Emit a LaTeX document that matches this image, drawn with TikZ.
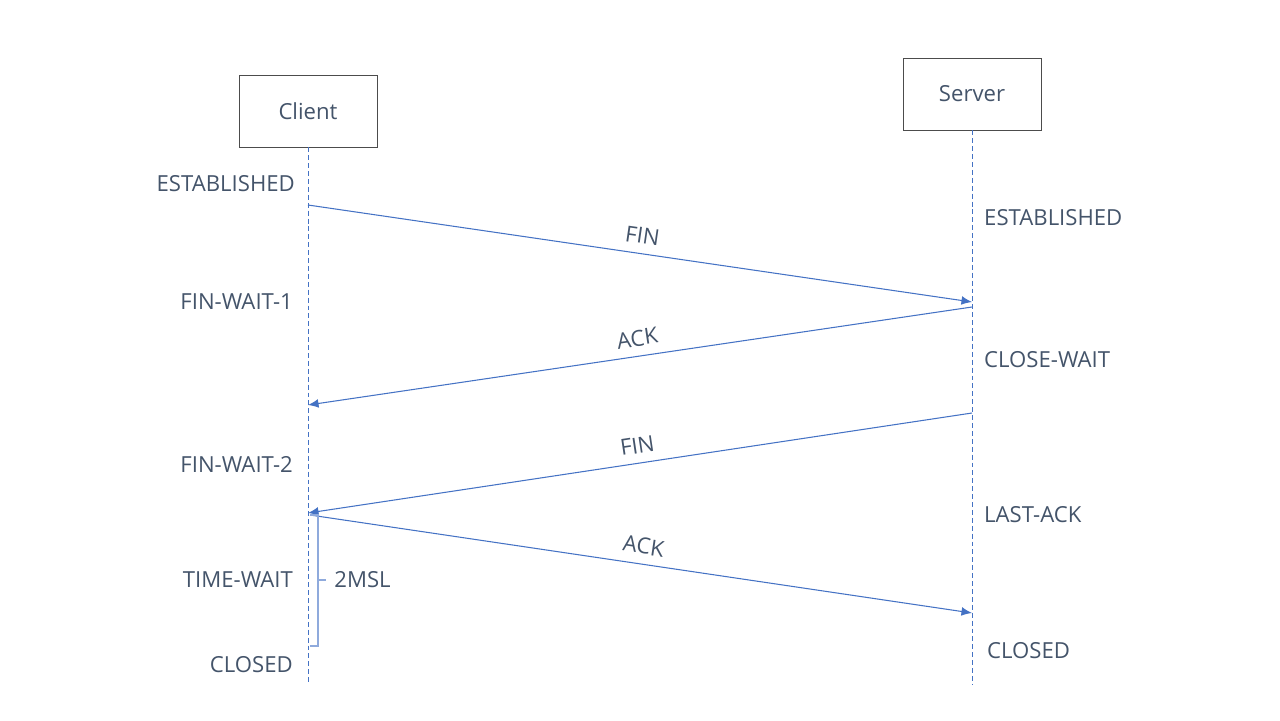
\documentclass[tikz,border=0pt]{standalone}
\usepackage{fontspec}
\setmainfont{Open Sans}
\usetikzlibrary{arrows.meta}
\definecolor{msgblue}{HTML}{4472C4}
\definecolor{stategray}{HTML}{44546A}
\definecolor{waitblue}{HTML}{8FAADC}
\begin{document}
\begin{tikzpicture}[x=0.02cm,y=-0.02cm,
  every node/.style={text=stategray,font=\fontsize{12.6}{14}\selectfont},
  party/.style={draw=black!70,line width=0.5pt,minimum width=2.76cm,minimum height=1.44cm,inner sep=0pt},
  life/.style={draw=msgblue,line width=0.5pt,dash pattern=on 2.8pt off 1.7pt},
  msg/.style={draw=msgblue,line width=0.6pt,-{Latex[length=6pt,width=5pt]}},
  tag/.style={sloped,above=2pt}]
  \useasboundingbox (0,0) rectangle (1280,720);
  % the two ends
  \node[party] (client) at (308,111) {Client};
  \node[party] (server) at (972,94) {Server};
  \coordinate (cend) at (308,685);
  \coordinate (send) at (972,685);
  \draw[life] (client) -- (cend);
  \draw[life] (server) -- (send);
  % points on the lifelines
  \coordinate (c1) at (308,205);
  \coordinate (s1) at (972,302);
  \coordinate (s2) at (972,307);
  \coordinate (c2) at (308,405);
  \coordinate (s3) at (972,413);
  \coordinate (c3) at (308,513);
  \coordinate (c4) at (310,515);
  \coordinate (s4) at (972,613);
  \draw[msg] (c1) -- node[tag] {FIN} (s1);
  \draw[msg] (s2) -- node[tag] {ACK} (c2);
  \draw[msg] (s3) -- node[tag] {FIN} (c3);
  \draw[msg] (c4) -- node[tag] {ACK} (s4);
  % 2MSL wait
  \coordinate (wtop) at (318,515);
  \coordinate (wbot) at (310,646);
  \draw[waitblue,line width=0.9pt] (c4) -- (wtop) |- (wbot);
  \coordinate (wmid) at (318,580);
  \coordinate (wtick) at (326,580);
  \draw[waitblue,line width=0.9pt] (wmid) -- (wtick);
  \node[anchor=west,inner sep=0pt] (msl) at (334,580) {2MSL};
  % client states
  \node[anchor=east] (est1) at (301,184) {ESTABLISHED};
  \node[anchor=east] (fw1) at (299,302) {FIN-WAIT-1};
  \node[anchor=east] (fw2) at (299,464) {FIN-WAIT-2};
  \node[anchor=east] (tw) at (299,580) {TIME-WAIT};
  \node[anchor=east] (cc) at (299,665) {CLOSED};
  % server states
  \node[anchor=west] (est2) at (978,218) {ESTABLISHED};
  \node[anchor=west] (cw) at (978,360) {CLOSE-WAIT};
  \node[anchor=west] (la) at (978,515) {LAST-ACK};
  \node[anchor=west] (sc) at (981,651) {CLOSED};
\end{tikzpicture}
\end{document}
